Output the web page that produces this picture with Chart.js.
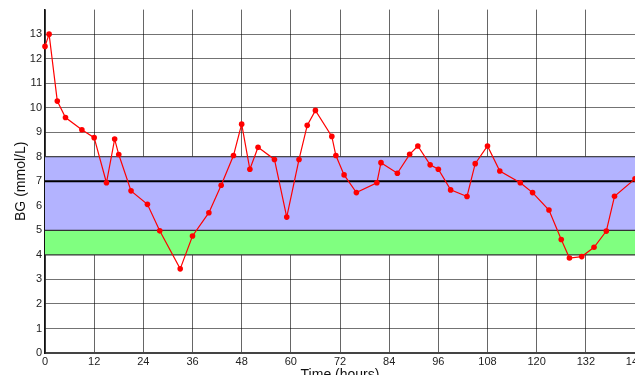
<!DOCTYPE html>
<html>
<head>
<meta charset="utf-8">
<script src="https://cdn.jsdelivr.net/npm/chart.js@4.4.1/dist/chart.umd.min.js"></script>
<style>
  html, body { margin: 0; padding: 0; background: #fff; overflow: hidden; }
  canvas { display: block; }
</style>
</head>
<body>
<canvas id="bg" width="700" height="390"></canvas>
<script>
// time of each reading (hours) and blood glucose (mmol/L)
const hours = [0, 1, 3, 5, 9, 12, 15, 17, 18, 21, 25, 28, 33, 36, 40, 43, 46, 48, 50, 52,
  56, 59, 62, 64, 66, 70, 71, 73, 76, 81, 82, 86, 89, 91, 94, 96, 99, 103, 105, 108,
  111, 116, 119, 123, 126, 128, 131, 134, 137, 139, 144];
const glucose = [12.5, 13.0, 10.27, 9.6, 9.1, 8.78, 6.94, 8.72, 8.09, 6.61, 6.06, 4.98, 3.43, 4.77, 5.72, 6.84, 8.05, 9.33, 7.49, 8.39,
  7.89, 5.54, 7.89, 9.28, 9.89, 8.83, 8.05, 7.26, 6.54, 6.94, 7.76, 7.33, 8.1, 8.44, 7.67, 7.49, 6.65, 6.38, 7.72, 8.44,
  7.42, 6.94, 6.54, 5.83, 4.63, 3.87, 3.93, 4.31, 4.97, 6.39, 7.1];

const timeRange = [0, 144];
const targetBand = [5, 8];
const lowBand = [4, 5];
const targetLevel = 7;
const bgRange = [0, 14];

const seriesPts = hours.map((h, i) => ({ x: h, y: glucose[i] }));
const flat = (v) => timeRange.map(t => ({ x: t, y: v }));

const FONT = "'Liberation Sans', Arial, Helvetica, sans-serif";

new Chart(document.getElementById("bg").getContext("2d"), {
  type: "line",
  data: {
    datasets: [
      {
        data: seriesPts,
        borderColor: "#ff0000",
        backgroundColor: "#ff0000",
        borderWidth: 1.2,
        pointRadius: 2.8,
        pointBorderWidth: 0,
        tension: 0,
        clip: false,
        fill: false
      },
      {
        data: flat(targetLevel),
        borderColor: "#000",
        borderWidth: 2,
        pointRadius: 0,
        fill: false
      },
      {
        data: flat(targetBand[1]),
        borderColor: "#333",
        borderWidth: 1.2,
        pointRadius: 0,
        backgroundColor: "#b3b3ff",
        fill: "+1"
      },
      {
        data: flat(targetBand[0]),
        borderColor: "#333",
        borderWidth: 1.2,
        pointRadius: 0,
        backgroundColor: "#80ff80",
        fill: "+1"
      },
      {
        data: flat(lowBand[0]),
        borderColor: "#333",
        borderWidth: 1.2,
        pointRadius: 0,
        fill: false
      }
    ]
  },
  options: {
    responsive: false,
    animation: false,
    layout: { padding: { top: 9, right: 65, left: 0, bottom: 0 } },
    plugins: {
      legend: { display: false },
      tooltip: { enabled: false },
      filler: { drawTime: "beforeDatasetsDraw" }
    },
    scales: {
      x: {
        type: "linear",
        min: timeRange[0],
        max: timeRange[1],
        afterFit: (s) => { s.height = 37; },
        ticks: {
          stepSize: 12,
          padding: 2,
          maxRotation: 0,
          color: "#222",
          font: { family: FONT, size: 11 }
        },
        grid: { color: "rgba(0,0,0,0.6)", lineWidth: 1, drawTicks: false },
        border: { color: "#444", width: 2 },
        title: {
          display: true,
          text: "Time (hours)",
          color: "#111",
          font: { family: FONT, size: 14 },
          padding: { top: 0, bottom: 6 }
        }
      },
      y: {
        min: bgRange[0],
        max: bgRange[1],
        afterFit: (s) => { s.width = 45; },
        afterBuildTicks: (s) => { s.ticks = s.ticks.filter(t => t.value < bgRange[1]); },
        ticks: {
          stepSize: 1,
          padding: 3,
          color: "#222",
          font: { family: FONT, size: 11 }
        },
        grid: { color: "rgba(0,0,0,0.55)", lineWidth: 1, drawTicks: false },
        border: { color: "#111", width: 1.5 },
        title: {
          display: true,
          text: "BG (mmol/L)",
          color: "#111",
          font: { family: FONT, size: 14 },
          padding: { top: 13, bottom: 0 }
        }
      }
    }
  }
});
</script>
</body>
</html>
